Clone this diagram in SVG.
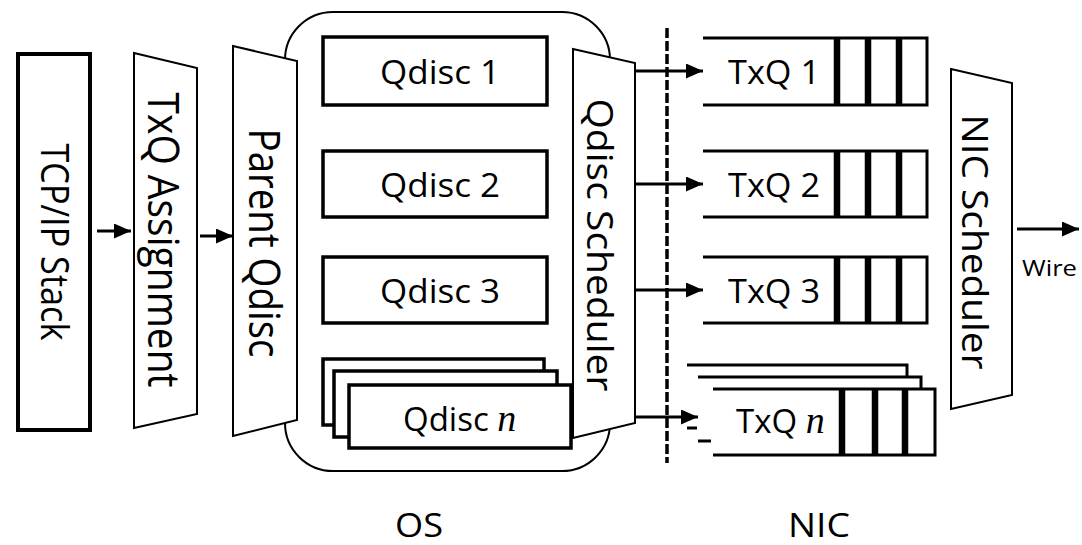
<svg xmlns="http://www.w3.org/2000/svg" width="1082" height="545" viewBox="0 0 1082 545">
<style>
  .t { font-family: "Open Sans", "Liberation Sans", sans-serif; font-size: 33px; fill: #000; }
  .v { font-family: "Open Sans", "Liberation Sans", sans-serif; fill: #000; }
  .ts { font-family: "Open Sans", "Liberation Sans", sans-serif; font-size: 22px; fill: #000; }
  .it { font-family: "Liberation Serif", serif; font-style: italic; font-size: 38px; }
  .thick { fill: #fff; stroke: #000; stroke-width: 3.5; }
  .thin { fill: #fff; stroke: #000; stroke-width: 2; }
  .ln { fill: none; stroke: #000; stroke-width: 3; }
  .bar { fill: none; stroke: #000; stroke-width: 6.5; }
  .edge { fill: none; stroke: #000; stroke-width: 3; }
</style>
<defs>
  <marker id="ah" viewBox="0 0 17 15" refX="17" refY="7.5" markerWidth="17" markerHeight="15" markerUnits="userSpaceOnUse" orient="auto">
    <path d="M0,0 L17,7.5 L0,15 Z" fill="#000"/>
  </marker>
</defs>
<rect width="1082" height="545" fill="#fff"/>

<g id="os-container">
  <rect x="285" y="12" width="325" height="459" rx="48" ry="48" fill="#fff" stroke="#000" stroke-width="2"/>
</g>

<g id="tcpip">
  <rect x="18" y="54" width="72" height="376" fill="#fff" stroke="#000" stroke-width="4"/>
  <text class="v" font-size="38" text-anchor="middle" textLength="197" lengthAdjust="spacingAndGlyphs" transform="translate(41,242) rotate(90)">TCP/IP Stack</text>
</g>

<g id="txq-assign">
  <polygon class="thin" points="134,53 197,68 197,414 134,428"/>
  <text class="v" font-size="44" text-anchor="middle" textLength="295" lengthAdjust="spacingAndGlyphs" transform="translate(148,240) rotate(90)">TxQ Assignment</text>
</g>

<g id="parent-qdisc">
  <polygon class="thin" points="233,46 297,61 297,420 233,436"/>
  <text class="v" font-size="44" text-anchor="middle" textLength="229" lengthAdjust="spacingAndGlyphs" transform="translate(249,243) rotate(90)">Parent Qdisc</text>
</g>

<g id="qdisc1">
  <rect class="thick" x="323" y="37" width="224" height="68"/>
  <text class="t" x="440" y="84" text-anchor="middle" textLength="120" lengthAdjust="spacingAndGlyphs">Qdisc 1</text>
</g>
<g id="qdisc2">
  <rect class="thick" x="323" y="151" width="224" height="66"/>
  <text class="t" x="440" y="197" text-anchor="middle" textLength="120" lengthAdjust="spacingAndGlyphs">Qdisc 2</text>
</g>
<g id="qdisc3">
  <rect class="thick" x="323" y="257" width="224" height="66"/>
  <text class="t" x="440" y="303" text-anchor="middle" textLength="120" lengthAdjust="spacingAndGlyphs">Qdisc 3</text>
</g>
<g id="qdiscn">
  <rect class="thick" x="323" y="359" width="221" height="66"/>
  <rect class="thick" x="334" y="371" width="223" height="66"/>
  <rect class="thick" x="349" y="385" width="222" height="63"/>
  <text class="t" x="403" y="431">Qdisc <tspan class="it">n</tspan></text>
</g>

<g id="qdisc-scheduler">
  <polygon class="thin" points="573,49 635,63 635,423 573,438"/>
  <text class="v" font-size="37" text-anchor="middle" textLength="293" lengthAdjust="spacingAndGlyphs" transform="translate(587,245) rotate(90)">Qdisc Scheduler</text>
</g>

<g id="txq1">
  <path class="edge" d="M703,38 H927 V105 H703"/>
  <path class="bar" d="M837,38 V105 M868,38 V105 M899,38 V105"/>
  <text class="t" x="728" y="84" textLength="92" lengthAdjust="spacingAndGlyphs">TxQ 1</text>
</g>
<g id="txq2">
  <path class="edge" d="M703,151 H927 V217 H703"/>
  <path class="bar" d="M837,151 V217 M868,151 V217 M899,151 V217"/>
  <text class="t" x="728" y="197" textLength="92" lengthAdjust="spacingAndGlyphs">TxQ 2</text>
</g>
<g id="txq3">
  <path class="edge" d="M703,257 H927 V323 H703"/>
  <path class="bar" d="M837,257 V323 M868,257 V323 M899,257 V323"/>
  <text class="t" x="728" y="303" textLength="92" lengthAdjust="spacingAndGlyphs">TxQ 3</text>
</g>
<g id="txqn">
  <path class="edge" d="M687,365 H907 V377"/>
  <path class="edge" d="M698,377 H921 V389"/>
  <path class="edge" d="M687,428 H697 M698,441 H711"/>
  <path class="edge" d="M713,389 H935 V455 H713"/>
  <path class="bar" d="M842,389 V455 M875,389 V455 M905,389 V455"/>
  <text class="t" x="736" y="433">TxQ <tspan class="it">n</tspan></text>
</g>

<g id="nic-scheduler">
  <polygon class="thin" points="951,69 1012,83 1012,395 951,409"/>
  <text class="v" font-size="36" text-anchor="middle" textLength="255" lengthAdjust="spacingAndGlyphs" transform="translate(962,242) rotate(90)">NIC Scheduler</text>
</g>

<g id="connectors">
  <line class="ln" x1="97" y1="231" x2="131" y2="231" marker-end="url(#ah)"/>
  <line class="ln" x1="200" y1="236" x2="233" y2="236" marker-end="url(#ah)"/>
  <line class="ln" x1="635" y1="71" x2="703" y2="71" marker-end="url(#ah)"/>
  <line class="ln" x1="635" y1="184" x2="703" y2="184" marker-end="url(#ah)"/>
  <line class="ln" x1="635" y1="290" x2="703" y2="290" marker-end="url(#ah)"/>
  <line class="ln" x1="635" y1="417" x2="698" y2="417" marker-end="url(#ah)"/>
  <line class="ln" x1="1017" y1="229" x2="1079" y2="229" marker-end="url(#ah)"/>
  <line x1="667" y1="28" x2="667" y2="463" stroke="#000" stroke-width="3.5" stroke-dasharray="10 3"/>
</g>

<text class="ts" x="1022" y="276" textLength="55" lengthAdjust="spacingAndGlyphs">Wire</text>
<text class="t" x="419" y="537" text-anchor="middle" font-size="31" textLength="48" lengthAdjust="spacingAndGlyphs">OS</text>
<text class="t" x="819" y="537" text-anchor="middle" font-size="31" textLength="62" lengthAdjust="spacingAndGlyphs">NIC</text>
</svg>
